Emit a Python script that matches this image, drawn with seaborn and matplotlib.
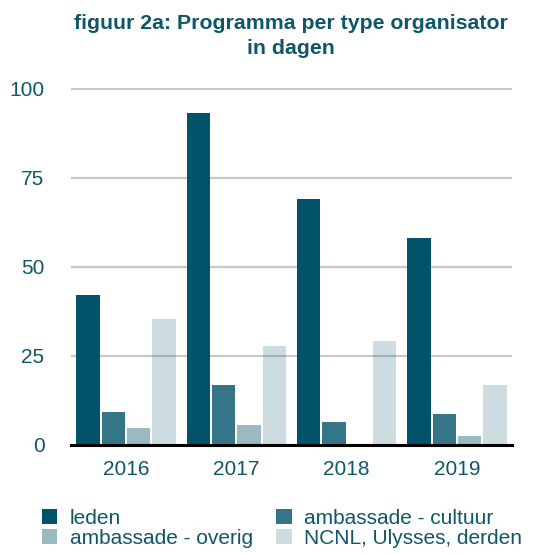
import matplotlib
matplotlib.use("Agg")
import matplotlib.pyplot as plt
from matplotlib.patches import Patch
from matplotlib.colors import to_rgba
import seaborn as sns
import pandas as pd

years = ["2016", "2017", "2018", "2019"]
series = ["leden", "ambassade - cultuur", "ambassade - overig", "NCNL, Ulysses, derden"]
leden = [42, 93, 69, 58]
cultuur = [9, 16.6, 6.2, 8.5]
overig = [4.6, 5.4, 0, 2.3]
ncnl = [35.4, 27.8, 29.2, 16.6]
yticks = [0, 25, 50, 75, 100]
title = "figuur 2a: Programma per type organisator\nin dagen"

base = "#02536A"
alphas = [1.0, 0.8, 0.4, 0.2]
text_col = "#0F5668"

rows = []
for s, vals in zip(series, [leden, cultuur, overig, ncnl]):
    for y, v in zip(years, vals):
        rows.append({"jaar": y, "type": s, "dagen": v})
df = pd.DataFrame(rows)

sns.set_theme(style="white")
plt.rcParams["font.family"] = ["Liberation Sans", "DejaVu Sans"]

fig = plt.figure(figsize=(5.36, 5.55), dpi=100)
ax = fig.add_axes([71 / 536, 1 - 444.5 / 555, 441 / 536, 357 / 555])

sns.barplot(data=df, x="jaar", y="dagen", hue="type", order=years,
            hue_order=series, palette=[base] * 4, width=0.92, gap=0.08,
            saturation=1, ax=ax, legend=False, zorder=3)
for cont, a in zip(ax.containers, alphas):
    for p in cont:
        p.set_alpha(a)
        p.set_linewidth(0)

ax.set_ylim(0, 100.3)
ax.set_yticks(yticks)
ax.set_yticklabels([str(t) for t in yticks])
ax.yaxis.grid(True, color="#c8c8c8", linewidth=1.6, zorder=0)
ax.set_axisbelow(True)
for s in ["top", "right", "left"]:
    ax.spines[s].set_visible(False)
ax.spines["bottom"].set_color("black")
ax.spines["bottom"].set_linewidth(2.2)
ax.spines["bottom"].set_zorder(5)
ax.tick_params(axis="both", length=0, labelsize=15, labelcolor=text_col)
ax.tick_params(axis="y", pad=19)
ax.tick_params(axis="x", pad=11)
ax.set_xlabel("")
ax.set_ylabel("")

fig.text(291 / 536, 1 - 36 / 555, title, ha="center", va="center",
         fontsize=15.3, fontweight="bold", color=text_col, linespacing=1.45)

# legend filled row-wise: leden, cultuur / overig, NCNL
order = [0, 2, 1, 3]
handles = [Patch(facecolor=to_rgba(base, alphas[i]), edgecolor="none") for i in order]
labels = [series[i] for i in order]
leg = fig.legend(handles, labels, loc="upper left", ncol=2,
                 bbox_to_anchor=(27 / 536, 1 - 494 / 555), frameon=False,
                 fontsize=15, handlelength=0.75, handleheight=0.75,
                 handletextpad=0.6, columnspacing=1.13, labelspacing=0.05,
                 borderpad=0.2)
for t in leg.get_texts():
    t.set_color(text_col)

fig.savefig("out.png", dpi=100)
